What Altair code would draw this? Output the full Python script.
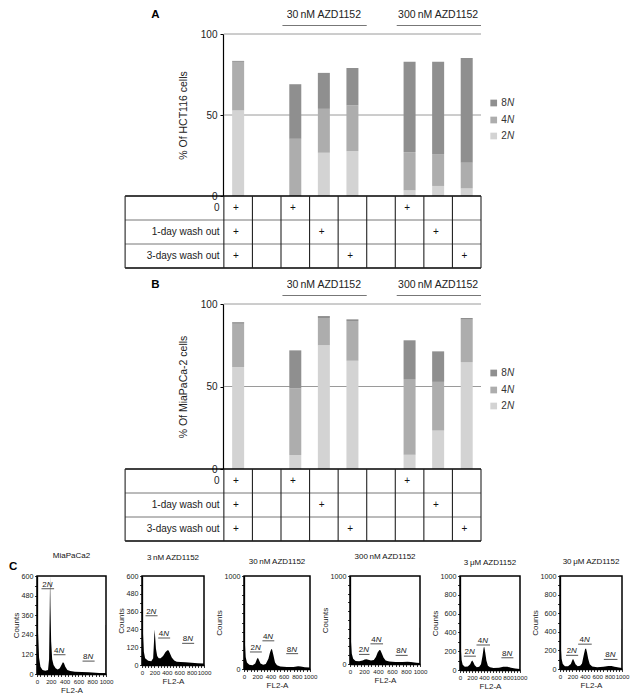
import altair as alt
import pandas as pd

FONT = "Liberation Sans"

# ---------------- Panels A and B: stacked bars ----------------
bar_cols = [0, 2, 3, 4, 6, 7, 8]
a_2n = [52.8, 0.0, 26.7, 27.7, 3.5, 6.2, 4.7]
a_4n = [30.0, 35.3, 27.1, 28.3, 23.6, 19.7, 15.8]
a_8n = [0.6, 33.7, 22.2, 23.0, 55.7, 56.9, 64.7]
b_2n = [61.7, 8.5, 75.0, 65.6, 8.7, 23.3, 64.8]
b_4n = [26.3, 40.3, 16.5, 24.1, 45.8, 29.5, 25.7]
b_8n = [1.0, 23.1, 1.2, 1.0, 23.5, 18.5, 1.0]

ploidy_order = ["8N", "4N", "2N"]
ploidy_colors = ["#8f8f8f", "#adadad", "#d3d3d3"]

row_labels = ["0", "1-day wash out", "3-days wash out"]
plus_cols = [[0, 2, 6], [0, 3, 7], [0, 4, 8]]
group_names = ["30\u2009nM AZD1152", "300\u2009nM AZD1152"]
group_start = [2, 6]
group_end = [5, 9]

# ---------------- Panel C: DNA-content histograms ----------------
hist_titles = ["MiaPaCa2", "3\u2009nM AZD1152", "30\u2009nM AZD1152",
               "300\u2009nM AZD1152", "3\u2009\u03bcM AZD1152", "30\u2009\u03bcM AZD1152"]
hist_ymax = [600, 600, 1000, 1000, 1000, 1000]

h1_x = [0, 5, 15, 30, 50, 80, 120, 160, 175, 185, 190, 195, 205, 220, 240, 270, 300, 330, 355, 375, 390, 410, 440, 480, 550, 650, 750, 850, 950, 995, 997, 1000]
h1_y = [480, 420, 250, 100, 45, 25, 20, 25, 90, 420, 600, 420, 200, 90, 55, 35, 28, 35, 55, 72, 68, 45, 25, 18, 14, 12, 10, 8, 5, 4, 300, 300]
h2_x = [0, 5, 15, 30, 50, 100, 150, 180, 195, 203, 212, 225, 245, 270, 300, 340, 380, 410, 430, 450, 480, 520, 560, 620, 700, 800, 900, 995, 997, 1000]
h2_y = [520, 420, 220, 90, 45, 28, 25, 45, 170, 240, 190, 110, 60, 45, 45, 60, 88, 100, 98, 80, 50, 30, 22, 20, 18, 15, 12, 10, 306, 306]
h3_x = [0, 5, 12, 25, 45, 80, 130, 170, 195, 210, 225, 250, 290, 330, 370, 395, 415, 425, 445, 470, 500, 550, 650, 750, 820, 860, 920, 995, 997, 1000]
h3_y = [900, 650, 300, 130, 70, 45, 40, 60, 105, 120, 100, 60, 45, 55, 110, 180, 215, 210, 150, 70, 40, 28, 22, 22, 30, 28, 18, 15, 528, 528]
h4_x = [0, 5, 12, 25, 45, 80, 130, 180, 210, 235, 260, 300, 340, 370, 395, 420, 435, 455, 480, 510, 560, 650, 750, 820, 870, 950, 995, 997, 1000]
h4_y = [860, 600, 280, 120, 60, 35, 30, 40, 50, 55, 48, 40, 45, 80, 130, 160, 155, 120, 70, 40, 28, 22, 22, 25, 22, 15, 12, 411, 411]
h5_x = [0, 5, 12, 25, 45, 80, 130, 170, 190, 205, 220, 245, 280, 320, 350, 375, 395, 405, 420, 440, 465, 500, 560, 650, 720, 790, 850, 920, 995, 997, 1000]
h5_y = [730, 520, 250, 110, 55, 35, 38, 60, 90, 100, 85, 50, 30, 35, 60, 150, 240, 245, 190, 100, 45, 28, 22, 25, 35, 35, 25, 15, 10, 420, 420]
h6_x = [0, 5, 12, 25, 45, 80, 130, 175, 195, 210, 225, 250, 285, 325, 355, 380, 405, 420, 435, 455, 480, 520, 600, 700, 780, 830, 880, 950, 995, 997, 1000]
h6_y = [750, 520, 250, 110, 55, 30, 30, 55, 90, 110, 90, 50, 30, 35, 60, 140, 215, 220, 180, 110, 50, 28, 20, 25, 33, 33, 25, 15, 10, 428, 428]
hist_x = [h1_x, h2_x, h3_x, h4_x, h5_x, h6_x]
hist_y = [h1_y, h2_y, h3_y, h4_y, h5_y, h6_y]

# gate labels (2N, 4N, 8N): start, end, level
gate_names = ["2", "4", "8"]
gate_start = [[65, 240, 660], [58, 261, 647], [90, 279, 640], [129, 292, 652], [65, 275, 690], [98, 293, 707]]
gate_end = [[248, 413, 835], [251, 454, 841], [270, 459, 820], [279, 472, 824], [265, 500, 890], [293, 512, 927]]
gate_level = [[522, 118, 79], [332, 182, 146], [183, 303, 165], [109, 229, 98], [147, 266, 130], [147, 267, 103]]

# ---------------- layout constants ----------------
N_COLS = 9
COL_PX = 263 / N_COLS          # width of one table column
ORIGIN = 36                    # page x of the shared plot origin
AXIS_X = 222                   # page x of the bar-chart y axis
RIGHT_X = 485                  # page x of the table's right edge
ROW_PX = 24
TABLE_LEFT = 121
PAGE_LEFT = 8
LEGEND_OFF_PX = [69, 86, 102]

hist_w = [69, 62, 66, 70, 60, 62]
hist_h = [98, 89, 93, 88, 94, 93]
hist_title_off = [1, 10, 6, 11, 5, 6]


def u(px):
    """page x -> table column units"""
    return (px - AXIS_X) / COL_PX


def bar_panel(letter, ytitle, s2, s4, s8, height):
    ky = height / 100.0
    row_u = ROW_PX / ky
    left_u = u(TABLE_LEFT)
    X = alt.X("x:Q", scale=alt.Scale(domain=[u(ORIGIN), N_COLS], nice=False, zero=False), axis=None)
    Y = alt.Y("y:Q", scale=alt.Scale(domain=[0, 100], nice=False, zero=False),
              axis=alt.Axis(values=[0, 50, 100], grid=False, title=ytitle, offset=ORIGIN - AXIS_X,
                            domainColor="black", domainWidth=1.2, tickColor="black",
                            tickSize=3, tickWidth=1, labelFontSize=10, labelColor="#222",
                            labelPadding=3, titleFontSize=10.5, titleFontWeight="normal",
                            titleColor="#222", titlePadding=12))
    C = alt.Color("p:N", scale=alt.Scale(domain=ploidy_order, range=ploidy_colors), legend=None)

    recs = []
    for c, v2, v4, v8 in zip(bar_cols, s2, s4, s8):
        lo = 0.0
        for p, v in (("2N", v2), ("4N", v4), ("8N", v8)):
            recs.append({"x": c + 0.5, "y": lo, "y2": lo + v, "p": p})
            lo += v
    bars = alt.Chart(pd.DataFrame(recs)).mark_bar(size=12).encode(
        x=X, y=Y, y2="y2:Q", color=C)

    grid = alt.Chart(pd.DataFrame({"x": [0, 0], "x2": [N_COLS, N_COLS], "y": [50, 100]})).mark_rule(
        color="#9a9a9a", strokeWidth=1).encode(x=X, x2="x2:Q", y=Y)

    hl = [-r * row_u for r in range(4)]
    outer_h = alt.Chart(pd.DataFrame({"x": [left_u] * 2, "x2": [N_COLS] * 2, "y": [hl[0], hl[3]]})).mark_rule(
        color="black", strokeWidth=1.6).encode(x=X, x2="x2:Q", y=Y)
    inner_h = alt.Chart(pd.DataFrame({"x": [left_u] * 2, "x2": [N_COLS] * 2, "y": [hl[1], hl[2]]})).mark_rule(
        color="#666", strokeWidth=0.9).encode(x=X, x2="x2:Q", y=Y)
    vx = [left_u] + list(range(N_COLS + 1))
    vert = alt.Chart(pd.DataFrame({"x": vx, "y": [0] * len(vx), "y2": [hl[3]] * len(vx)})).mark_rule(
        color="#222", strokeWidth=1.1).encode(x=X, y=Y, y2="y2:Q")

    rl = alt.Chart(pd.DataFrame({"x": [-0.15] * 3, "y": [-(r + 0.5) * row_u for r in range(3)],
                                 "t": row_labels})).mark_text(
        align="right", baseline="middle", fontSize=10, color="#222").encode(x=X, y=Y, text="t:N")

    prec = []
    for r, cols in enumerate(plus_cols):
        for c in cols:
            prec.append({"x": c + 0.42, "y": -(r + 0.5) * row_u, "t": "+"})
    plus = alt.Chart(pd.DataFrame(prec)).mark_text(
        align="center", baseline="middle", fontSize=10, color="#111").encode(x=X, y=Y, text="t:N")

    gl = alt.Chart(pd.DataFrame({"x": [(a + b) / 2 for a, b in zip(group_start, group_end)],
                                 "y": [100 + 19 / ky] * 2, "t": group_names})).mark_text(
        align="center", baseline="middle", fontSize=10.5, color="#222").encode(x=X, y=Y, text="t:N")
    gu = alt.Chart(pd.DataFrame({"x": [a + 0.05 for a in group_start], "x2": group_end,
                                 "y": [100 + 8.5 / ky] * 2})).mark_rule(
        color="#777", strokeWidth=1.2).encode(x=X, x2="x2:Q", y=Y)

    let = alt.Chart(pd.DataFrame({"x": [u(152)], "y": [100 + 19 / ky], "t": [letter]})).mark_text(
        align="center", baseline="middle", fontSize=11.5, fontWeight="bold", color="black").encode(
        x=X, y=Y, text="t:N")

    ly = [100 - o / ky for o in LEGEND_OFF_PX]
    lsq = alt.Chart(pd.DataFrame({"x": [u(498)] * 3, "y": ly, "p": ploidy_order})).mark_square(
        size=45, opacity=1).encode(x=X, y=Y, color=C)
    ldig = alt.Chart(pd.DataFrame({"x": [u(511.5)] * 3, "y": ly, "t": ["8", "4", "2"]})).mark_text(
        align="right", baseline="middle", fontSize=10, color="#333").encode(x=X, y=Y, text="t:N")
    ln = alt.Chart(pd.DataFrame({"x": [u(511.5)] * 3, "y": ly, "t": ["N"] * 3})).mark_text(
        align="left", baseline="middle", fontSize=10, fontStyle="italic", color="#333").encode(
        x=X, y=Y, text="t:N")

    anchor = alt.Chart(pd.DataFrame({"x": [u(PAGE_LEFT)], "y": [50], "y2": [51]})).mark_rule(
        strokeOpacity=0).encode(x=X, y=Y, y2="y2:Q")

    return alt.layer(grid, bars, outer_h, inner_h, vert, rl, plus, gl, gu, let, lsq, ldig, ln, anchor).properties(
        width=RIGHT_X - ORIGIN, height=height)


def hist_panel(i):
    ymax = hist_ymax[i]
    w = hist_w[i]
    h = hist_h[i]
    if ymax == 600:
        yvals = list(range(0, 601, 60))
        yexpr = "datum.value % 120 === 0 ? datum.label : ''"
    elif i in (2, 3):
        yvals = list(range(0, 1001, 100))
        yexpr = "(datum.value === 0 || datum.value === 1000) ? datum.label : ''"
    else:
        yvals = list(range(0, 1001, 100))
        yexpr = "datum.value % 200 === 0 ? datum.label : ''"
    xsc = alt.Scale(domain=[0, 1000], nice=False, zero=False)
    X = alt.X("fl:Q", scale=xsc,
              axis=alt.Axis(values=list(range(0, 1001, 50)), format="d",
                            labelExpr="datum.value % 200 === 0 ? datum.label : ''",
                            title="FL2-A", grid=False, domainColor="black", domainWidth=1.3,
                            tickColor="black", tickSize=2.5, tickWidth=0.8, labelFontSize=6.2,
                            labelPadding=2, labelOverlap=False, labelFlush=False,
                            labelColor="#222", labelAngle=0,
                            titleFontSize=8, titleFontWeight="normal", titleColor="#222", titlePadding=2))
    Y = alt.Y("c:Q", scale=alt.Scale(domain=[0, ymax], nice=False, zero=True),
              axis=alt.Axis(values=yvals, format="d", labelExpr=yexpr, title="Counts", grid=False,
                            domainColor="black", domainWidth=1.3, tickColor="black", tickSize=2.5,
                            tickWidth=0.8, labelFontSize=7.2, labelPadding=1.5, labelOverlap=False,
                            labelColor="#222", titleFontSize=8, titleFontWeight="normal",
                            titleColor="#222", titlePadding=1))
    area = alt.Chart(pd.DataFrame({"fl": hist_x[i], "c": hist_y[i]})).mark_area(
        color="black", interpolate="linear").encode(x=X, y=Y)

    gs = gate_start[i]
    ge = gate_end[i]
    gy = gate_level[i]
    gdf = pd.DataFrame({"fl": gs, "fl2": ge, "c": gy})
    tdf = pd.DataFrame({"fl": [(a + b) / 2 for a, b in zip(gs, ge)], "c": gy, "t": gate_names, "n": ["N"] * 3})
    under = alt.Chart(gdf).mark_rule(color="#555", strokeWidth=1).encode(x=X, x2="fl2:Q", y=Y)
    gnum = alt.Chart(tdf).mark_text(align="right", baseline="alphabetic", dy=-2, dx=-1, fontSize=8,
                                    color="#222").encode(x=X, y=Y, text="t:N")
    gN = alt.Chart(tdf).mark_text(align="left", baseline="alphabetic", dy=-2, dx=-1, fontSize=8,
                                  fontStyle="italic", color="#222").encode(x=X, y=Y, text="n:N")
    layers = [area, under, gnum, gN]
    if i == 0:
        cdf = pd.DataFrame({"fl": [-(ORIGIN - PAGE_LEFT) / w * 1000], "c": [ymax * (1 + 9.5 / h)], "t": ["C"]})
        layers.append(alt.Chart(cdf).mark_text(align="left", baseline="middle", fontSize=11.5,
                                               fontWeight="bold", color="black").encode(x=X, y=Y, text="t:N"))
    return alt.layer(*layers).properties(
        width=w, height=h,
        view=alt.ViewBackground(stroke="black", strokeWidth=1.5),
        title=alt.TitleParams(text=hist_titles[i], fontSize=8, fontWeight="normal", color="#111",
                              anchor="middle", offset=hist_title_off[i]))


panel_a = bar_panel("A", "% Of HCT116 cells", a_2n, a_4n, a_8n, 162)
panel_b = bar_panel("B", "% Of MiaPaCa-2 cells", b_2n, b_4n, b_8n, 165)
panel_c = alt.concat(*[hist_panel(i) for i in range(6)], columns=6, spacing=2, align="none")
panels_ab = alt.concat(panel_a, panel_b, columns=1, spacing=9, align="none")

chart = alt.concat(panels_ab, panel_c, columns=1, spacing=8, align="none").properties(
    padding=0, background="white"
).configure(font=FONT).configure_view(strokeWidth=0)

chart.save("out.html", embed_options={"renderer": "svg", "actions": False})
